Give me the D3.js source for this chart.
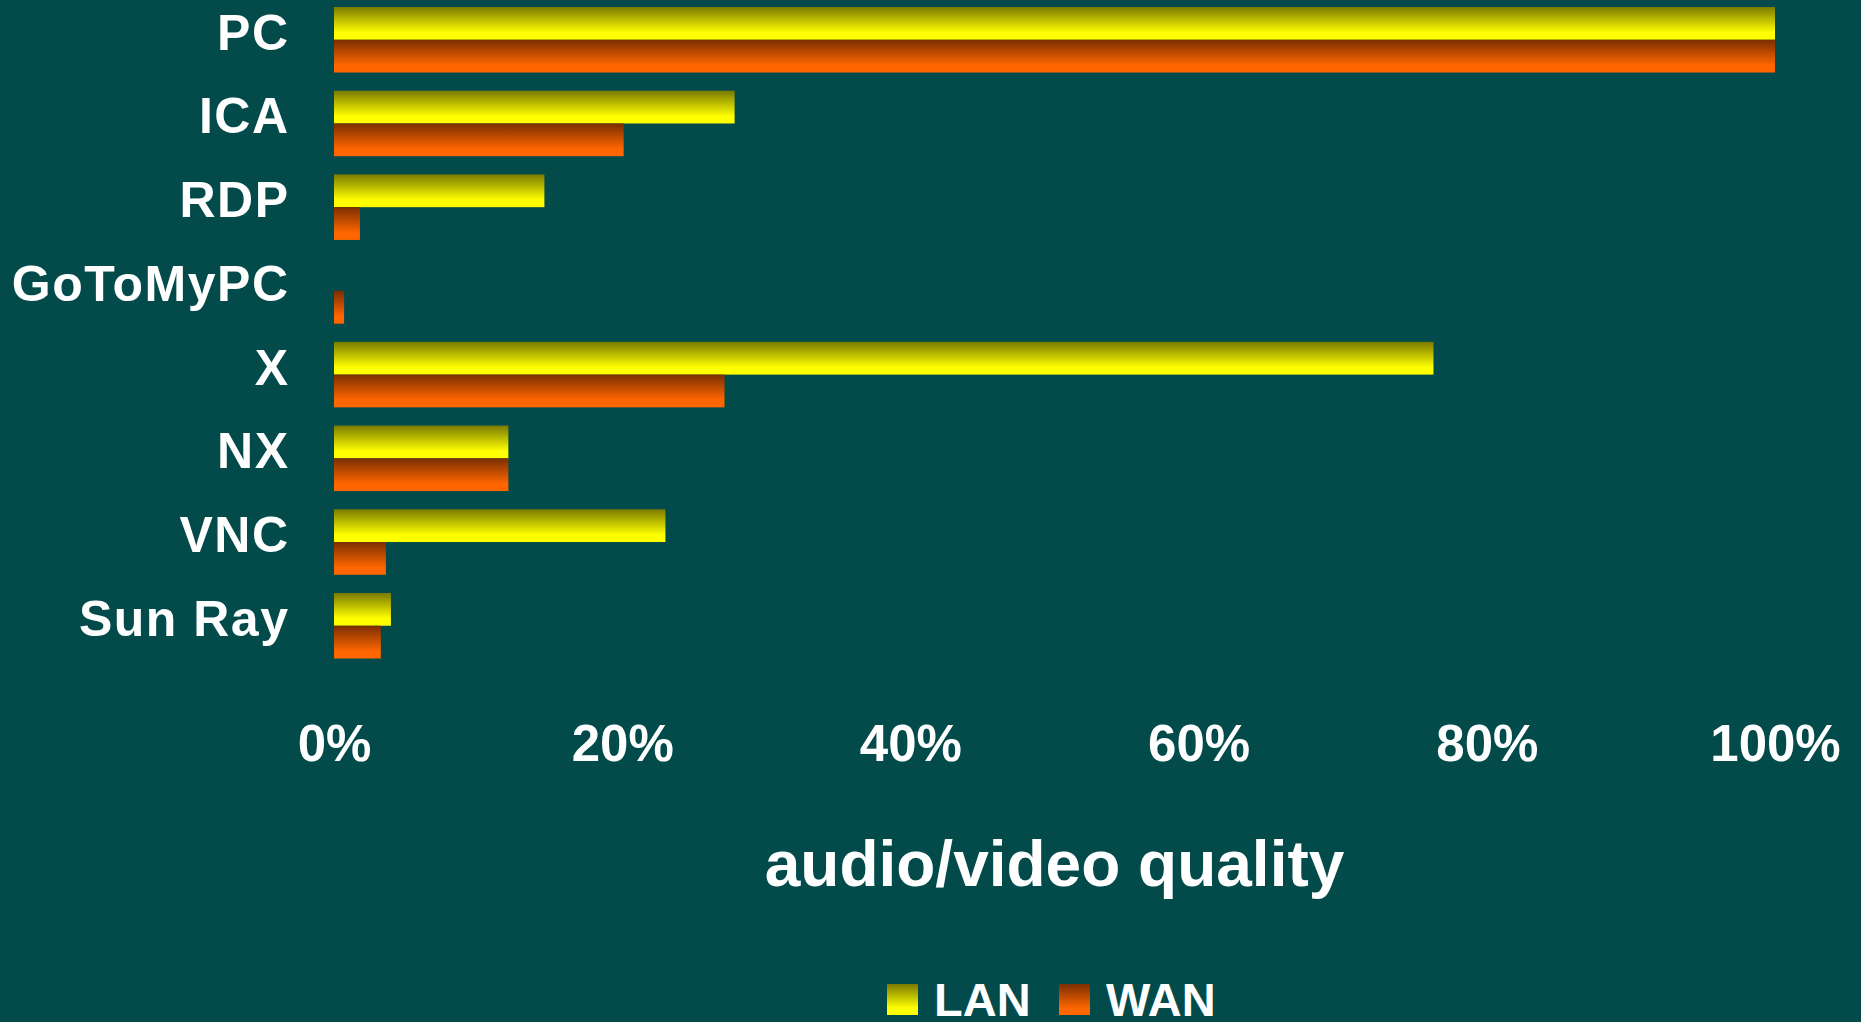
<!DOCTYPE html>
<html>
<head>
<meta charset="utf-8">
<script src="https://cdn.jsdelivr.net/npm/d3@7"></script>
<style>
  html, body { margin: 0; padding: 0; background: #034b4b; }
  svg { display: block; }
  text { font-family: "Liberation Sans", Arial, sans-serif; font-weight: bold; fill: #ffffff; }
</style>
</head>
<body>
<div id="chart"></div>
<script>
// categories, top to bottom
const categories = ["PC", "ICA", "RDP", "GoToMyPC", "X", "NX", "VNC", "Sun Ray"]
const series = ["LAN", "WAN"]
// values in percent
const lanValues = [100, 27.8, 14.6, 0, 76.3, 12.1, 23.0, 3.95]
const wanValues = [100, 20.1, 1.8, 0.7, 27.1, 12.1, 3.6, 3.25]
const tickValues = [0, 20, 40, 60, 80, 100]
const axisTitle = "audio/video quality"

const width = 1861, height = 1022
const plot = {left: 334, right: 1775, top: -2.1, bottom: 667.6}

const svg = d3.select("#chart").append("svg")
    .attr("width", width)
    .attr("height", height)

svg.append("rect").attr("width", width).attr("height", height).attr("fill", "#034b4b")

// gradients: dark at the top, bright at the bottom
const defs = svg.append("defs")
const grads = {
    LAN: ["#7a7a00", "#ffff00"],
    WAN: ["#7a2e00", "#ff6600"]
}
series.forEach(s => {
    const g = defs.append("linearGradient")
        .attr("id", "grad" + s)
        .attr("x1", 0).attr("y1", 0).attr("x2", 0).attr("y2", 1)
    g.append("stop").attr("offset", "0%").attr("stop-color", grads[s][0])
    g.append("stop").attr("offset", "78%").attr("stop-color", grads[s][1])
    g.append("stop").attr("offset", "100%").attr("stop-color", grads[s][1])
})

const x = d3.scaleLinear().domain([0, 100]).range([plot.left, plot.right])
const y = d3.scaleBand()
    .domain(categories)
    .range([plot.top, plot.bottom])
    .paddingInner(0.2175)
    .paddingOuter(0.10875)
const ySub = d3.scaleBand().domain(series).range([0, y.bandwidth()])

const rows = categories.map((c, i) => ({cat: c, LAN: lanValues[i], WAN: wanValues[i]}))

// bars
const groups = svg.selectAll(".grp")
    .data(rows)
    .enter()
    .append("g")
    .attr("class", "grp")
    .attr("transform", d => "translate(0," + y(d.cat) + ")")

groups.selectAll("rect")
    .data(d => series.map(s => ({s: s, v: d[s]})))
    .enter()
    .append("rect")
    .attr("x", x(0))
    .attr("y", d => ySub(d.s))
    .attr("width", d => x(d.v) - x(0))
    .attr("height", ySub.bandwidth())
    .attr("fill", d => "url(#grad" + d.s + ")")

// category axis (no line, no ticks)
const yAxis = svg.append("g")
    .attr("transform", "translate(" + plot.left + ",0)")
    .call(d3.axisLeft(y).tickSize(0).tickPadding(44.5))
yAxis.select(".domain").remove()
yAxis.selectAll("text")
    .attr("fill", "#ffffff")
    .attr("dy", null)
    .attr("y", 10)
    .style("font-size", "50px")
    .style("letter-spacing", "1.5px")
    .style("font-family", '"Liberation Sans", Arial, sans-serif')
    .style("font-weight", "bold")

// value axis
const xAxis = svg.append("g")
    .call(d3.axisBottom(x).tickValues(tickValues).tickSize(0).tickFormat(d => d + "%"))
xAxis.select(".domain").remove()
xAxis.selectAll("text")
    .attr("fill", "#ffffff")
    .attr("dy", null)
    .attr("y", 761)
    .style("font-size", "51px")
    .style("font-family", '"Liberation Sans", Arial, sans-serif')
    .style("font-weight", "bold")

// axis title
svg.append("text")
    .attr("x", (plot.left + plot.right) / 2)
    .attr("y", 886)
    .attr("text-anchor", "middle")
    .style("font-size", "64px")
    .text(axisTitle)

// legend
const legendX = [887, 1059]
const legend = svg.selectAll(".legend")
    .data(series)
    .enter()
    .append("g")
    .attr("class", "legend")
    .attr("transform", (d, i) => "translate(" + legendX[i] + ",984)")
legend.append("rect")
    .attr("width", 31)
    .attr("height", 31)
    .attr("fill", d => "url(#grad" + d + ")")
legend.append("text")
    .attr("x", 47)
    .attr("y", 32)
    .style("font-size", "47px")
    .text(d => d)
</script>
</body>
</html>
